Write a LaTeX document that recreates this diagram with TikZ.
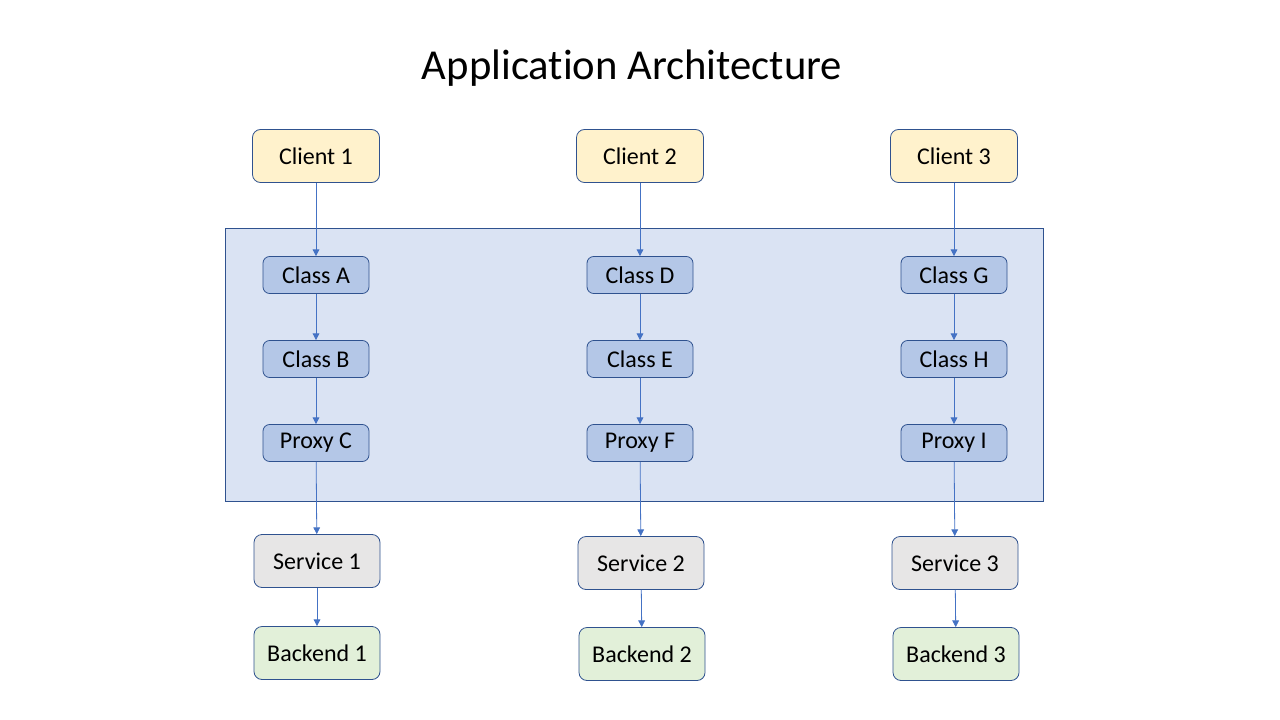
\documentclass[tikz,border=0pt]{standalone}
\usepackage{fontspec}
\setmainfont{Carlito}[Ligatures=NoCommon]
\usetikzlibrary{positioning}
\usetikzlibrary{arrows.meta}
\definecolor{clientfill}{HTML}{FFF2CC}
\definecolor{classfill}{HTML}{B4C7E7}
\definecolor{servicefill}{HTML}{E7E6E6}
\definecolor{backendfill}{HTML}{E2F0D9}
\definecolor{appfill}{HTML}{DAE3F3}
\definecolor{edge}{HTML}{2F528F}
\definecolor{arrowblue}{HTML}{4472C4}
\tikzset{
	box/.style={draw=edge, rounded corners=6pt, line width=0.6pt, font=\fontsize{18}{20}\selectfont, inner sep=0pt},
	clientbox/.style={box, fill=clientfill, minimum width=127*0.75pt, minimum height=53*0.75pt},
	classbox/.style={box, fill=classfill, minimum width=106*0.75pt, minimum height=37*0.75pt, rounded corners=5pt},
	servicebox/.style={box, fill=servicefill, minimum width=126*0.75pt, minimum height=53*0.75pt},
	backendbox/.style={box, fill=backendfill, minimum width=126*0.75pt, minimum height=53*0.75pt},
	link/.style={draw=arrowblue, line width=0.6pt, -{Triangle[length=5pt,width=5pt]}}
}
\begin{document}
\begin{tikzpicture}[x=0.75pt, y=-0.75pt]
\useasboundingbox (0,0) rectangle (1280,720);

% title
\node[font=\fontsize{32}{36}\selectfont] (title) at (632,68) {Application Architecture};

% application area
\filldraw[fill=appfill, draw=edge, line width=0.6pt] (225,228) rectangle (1043,501);

% Clients
\node[clientbox] (client1) at (316,156) {Client 1};
\node[clientbox] (client2) at (640,156) {Client 2};
\node[clientbox] (client3) at (954,156) {Client 3};

% Classes and proxies
\node[classbox] (classA) at (316,275) {Class A};
\node[classbox] (classB) at (316,359) {Class B};
\node[classbox] (proxyC) at (316,443) {Proxy C};
\node[classbox] (classD) at (640,275) {Class D};
\node[classbox] (classE) at (640,359) {Class E};
\node[classbox] (proxyF) at (640,443) {Proxy F};
\node[classbox] (classG) at (954,275) {Class G};
\node[classbox] (classH) at (954,359) {Class H};
\node[classbox] (proxyI) at (954,443) {Proxy I};

% Services
\node[servicebox] (service1) at (317,561) {Service 1};
\node[servicebox] (service2) at (641,563) {Service 2};
\node[servicebox] (service3) at (955,563) {Service 3};

% Backends
\node[backendbox] (backend1) at (317,653) {Backend 1};
\node[backendbox] (backend2) at (642,654) {Backend 2};
\node[backendbox] (backend3) at (956,654) {Backend 3};

% arrows
\draw[link] (client1) -- (classA);
\draw[link] (classA) -- (classB);
\draw[link] (classB) -- (proxyC);
\draw[link] (proxyC) -- (service1);
\draw[link] (service1) -- (backend1);

\draw[link] (client2) -- (classD);
\draw[link] (classD) -- (classE);
\draw[link] (classE) -- (proxyF);
\draw[link] (proxyF) -- (service2);
\draw[link] (service2) -- (backend2);

\draw[link] (client3) -- (classG);
\draw[link] (classG) -- (classH);
\draw[link] (classH) -- (proxyI);
\draw[link] (proxyI) -- (service3);
\draw[link] (service3) -- (backend3);
\end{tikzpicture}
\end{document}
